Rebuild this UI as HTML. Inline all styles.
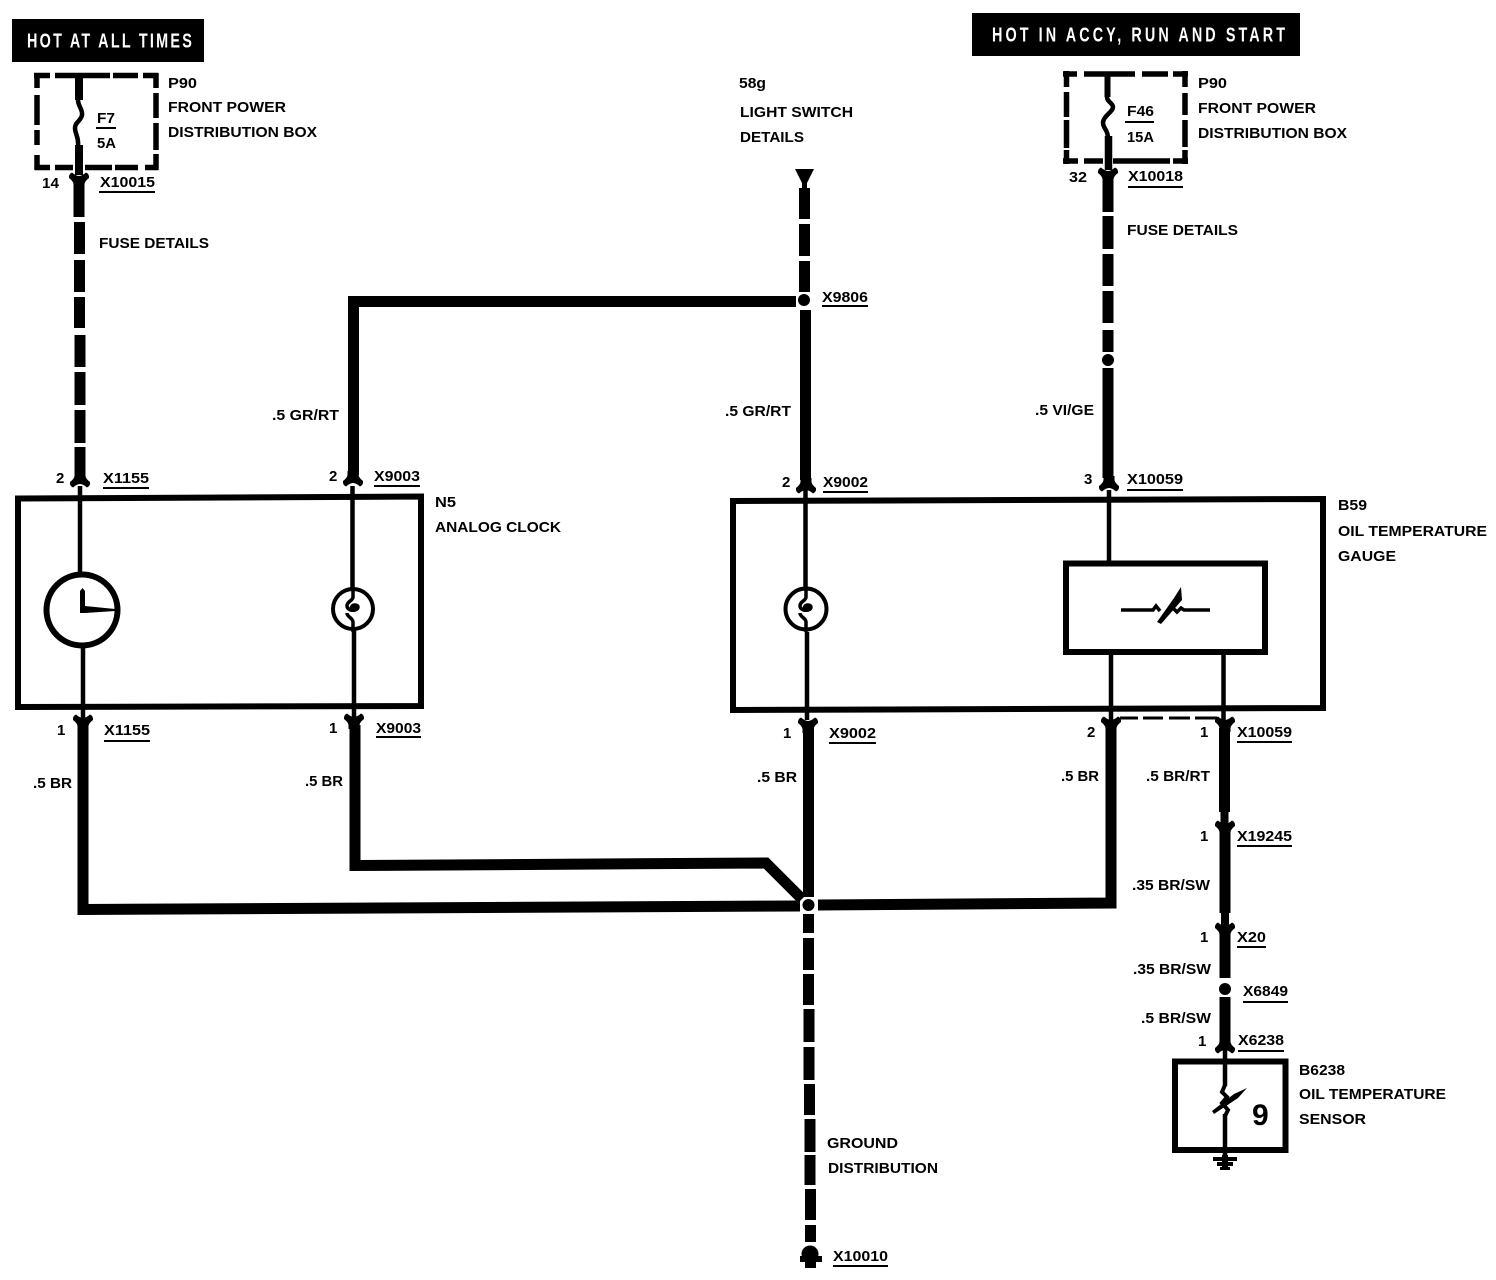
<!DOCTYPE html>
<html>
<head>
<meta charset="utf-8">
<title>Analog Clock and Oil Temperature Gauge Wiring Diagram</title>
<style>
html,body{margin:0;padding:0;background:#fff;}
svg{display:block;}
text{font-family:"Liberation Sans",sans-serif;font-weight:bold;font-size:15px;fill:#000;}
.w{fill:#fff;font-size:20px;font-weight:bold;}
</style>
</head>
<body>
<svg xmlns="http://www.w3.org/2000/svg" width="1496" height="1280" viewBox="0 0 1496 1280">
<defs>
<path id="u" d="M-5.5,-12 V-8 Q-6,-5 -10,-2 Q-10.5,2 -7,3.5 Q-3,0 0,0 Q3,0 7,3.5 Q10.5,2 10,-2 Q6,-5 5.5,-8 V-12 Z"/>
<path id="d" d="M-5.5,12 V8 Q-6,5 -10,2 Q-10.5,-2 -7,-3.5 Q-3,0 0,0 Q3,0 7,-3.5 Q10.5,-2 10,2 Q6,5 5.5,8 V12 Z"/>
<g id="b">
<path d="M0,-21 V-12 C0,-8 -6,-8 -6,-3 C-6,0 -2,2 2,1 C6,0 6,-4 2,-4 C-1,-4 -2,-2 -1,0 M-6,4 C-6,8 0,9 0,13 V23" fill="none" stroke="#000" stroke-width="3.5"/>
<circle cx="2" cy="-1.5" r="2.5"/>
</g>
</defs>
<rect width="1496" height="1280" fill="#fff"/>

<!-- header banners -->
<rect x="12" y="19" width="192" height="43" fill="#000"/>
<text class="w" transform="translate(27,47.5) scale(.72,1)" textLength="229" lengthAdjust="spacing">HOT AT ALL TIMES</text>
<rect x="972" y="13" width="328" height="43" fill="#000"/>
<text class="w" transform="translate(992,41.5) scale(.72,1)" textLength="407" lengthAdjust="spacing">HOT IN ACCY, RUN AND  START</text>

<!-- dashed fuse boxes -->
<g fill="none" stroke="#000" stroke-width="5.5">
<path d="M34,75.5H50M55,75.5H83M83,75.5H110M113,75.5H138M143,75.5H158M37,73V88M37,95V125M37,130V145M37,155V170M156,73V88M156,93V118M156,123V150M156,154V170M35,167.5H50M55,167.5H73M85,167.5H112M115,167.5H138M145,167.5H158"/>
<path d="M1063,74H1077M1084,74H1135M1142,74H1168M1173,74H1188M1066.5,71V87M1066.5,92V117M1066.5,120V148M1066.5,150V164M1185,71V87M1185,93V115M1185,120V147M1185,150V164M1063,161H1078M1084,161H1103M1113,161H1170M1173,161H1188"/>
</g>
<!-- fuses -->
<g fill="none" stroke="#000">
<path d="M79,74V100" stroke-width="8"/>
<path d="M78,100C78,106 83,110 82,115C81,121 75,122 75,128C75,134 79,137 78,146" stroke-width="4.5"/>
<path d="M79,145V175" stroke-width="8"/>
<path d="M1107.5,74V97" stroke-width="6"/>
<path d="M1107,97C1107,102 1113,103 1113,107C1113,112 1103,116 1103,123C1103,128 1108,130 1108,138" stroke-width="4.5"/>
<path d="M1108.5,136V170" stroke-width="7.5"/>
</g>

<!-- thick wires -->
<g fill="none" stroke="#000" stroke-width="11">
<path d="M79,180V217M79.5,222V254M79.5,260V292M79.5,297V328M80,335V367M80,372V405M80,410V443M80,447V474"/>
<path d="M1108,175V212M1108,216V249M1108,254V286M1108,291V323M1108,330V352M1108,368V478"/>
<path d="M804.5,188V219M804.5,224V256M804.5,261V292M805.5,310V480"/>
<path d="M796,301.5H353.5V475"/>
<path d="M83,725V909.5L800,906"/>
<path d="M355,725V865.5L766,863L802,899"/>
<path d="M808.5,727V897"/>
<path d="M818,905L1111,903V728"/>
<path d="M1224.5,728V812M1225,830V913M1225,932V978M1225,997V1040"/>
<path d="M808.5,914V933M808.5,938V970M808.5,974V1005M809,1009V1042M809,1047V1080M809.5,1084V1115M810,1119V1152M810,1155V1185M810.5,1189V1220M810.5,1225V1242"/>
</g>
<path d="M1224.5,810V824M1225,911V926" fill="none" stroke="#000" stroke-width="8"/>

<!-- junction dots -->
<circle cx="808.5" cy="905" r="6"/>
<circle cx="804" cy="300" r="6"/>
<circle cx="1108" cy="360" r="6"/>
<circle cx="1225" cy="989" r="6"/>

<!-- top arrow and ground end -->
<path d="M795,169H814L807,183V190H802V183Z"/>
<circle cx="810" cy="1254" r="8.5"/>
<path d="M800,1256H822V1262H800ZM805,1260H816V1268H805Z"/>

<!-- connector forks -->
<use href="#u" x="80" y="484"/>
<use href="#u" x="353" y="483"/>
<use href="#u" x="806" y="490"/>
<use href="#u" x="1109" y="488"/>
<use href="#u" x="1225" y="1050"/>
<use href="#d" x="79" y="176"/>
<use href="#d" x="1108" y="171"/>
<use href="#d" x="83" y="718"/>
<use href="#d" x="354" y="717"/>
<use href="#d" x="808" y="721"/>
<use href="#d" x="1111" y="720"/>
<use href="#d" x="1225" y="720"/>
<use href="#d" x="1225" y="824"/>
<use href="#d" x="1225" y="926"/>

<!-- component boxes -->
<g fill="none" stroke="#000" stroke-width="6">
<path d="M18,498.5L421,496.5V706L18,707Z"/>
<path d="M733,501L1323,499V708L733,710Z"/>
<rect x="1066" y="563.5" width="199" height="88.5"/>
<rect x="1175" y="1061.5" width="110.5" height="88.5"/>
<circle cx="82" cy="610" r="35.5"/>
</g>
<g fill="none" stroke="#000" stroke-width="4">
<circle cx="353" cy="609" r="20"/>
<circle cx="806" cy="609" r="20.5"/>
</g>

<!-- thin internal wires -->
<g fill="none" stroke="#000" stroke-width="4.5">
<path d="M80,486V575M83,645V718"/>
<path d="M352.5,486V588M354,630V718"/>
<path d="M805.5,490V588M807,632V720"/>
<path d="M1109,490V562M1111,654V720M1223.5,654V720"/>
<path d="M1225,1050V1086M1225,1114V1158"/>
</g>
<path d="M1120,718H1138M1143,718H1163M1169,718H1190M1195,718H1217" fill="none" stroke="#000" stroke-width="3"/>

<!-- clock hands -->
<path d="M80,591L82.5,588L85,591V606L115,609V611L85,613H80Z"/>
<!-- bulb filaments -->
<use href="#b" x="353" y="609"/>
<use href="#b" x="806" y="609"/>

<!-- gauge resistor -->
<path d="M1121,610H1153L1156,606L1160,611M1172,607L1177,612L1181,608L1184,610H1210" fill="none" stroke="#000" stroke-width="3.5"/>
<path d="M1157,622L1174,598L1181,587L1182,600L1161,624Z"/>

<!-- sensor resistor -->
<path d="M1225,1085L1222,1092L1227,1097L1222,1103L1228,1110L1225,1116" fill="none" stroke="#000" stroke-width="4"/>
<path d="M1212,1111L1234,1094L1247,1088L1238,1098L1214,1114Z"/>
<text x="1252" y="1125" style="font-size:30px">9</text>

<!-- sensor ground -->
<path d="M1213,1157H1237V1161H1213ZM1217,1162H1233V1166H1217ZM1220,1167H1230V1170H1220ZM1222,1155H1228V1170H1222Z"/>

<!-- label underlines -->
<path d="M96,128H116M99,192H155M1125,122H1154M1128,187H1183M822,306H868M103,488H149M374,486H420M104,741H150M376,737H421M823,492H868M829,743H876M1127,490H1183M1237,742H1292M1237,846H1292M1237,947H1266M1243,1002H1288M1238,1051H1284M833,1266H888" fill="none" stroke="#000" stroke-width="2"/>

<!-- labels -->
<text x="168" y="88" textLength="29" lengthAdjust="spacingAndGlyphs">P90</text>
<text x="168" y="112" textLength="118" lengthAdjust="spacingAndGlyphs">FRONT POWER</text>
<text x="168" y="137" textLength="149" lengthAdjust="spacingAndGlyphs">DISTRIBUTION BOX</text>
<text x="97" y="123" textLength="18" lengthAdjust="spacingAndGlyphs">F7</text>
<text x="97" y="148" textLength="19" lengthAdjust="spacingAndGlyphs">5A</text>
<text x="42" y="188" textLength="17" lengthAdjust="spacingAndGlyphs">14</text>
<text x="100" y="187" textLength="55" lengthAdjust="spacingAndGlyphs">X10015</text>
<text x="99" y="248" textLength="110" lengthAdjust="spacingAndGlyphs">FUSE DETAILS</text>

<text x="1198" y="88" textLength="29" lengthAdjust="spacingAndGlyphs">P90</text>
<text x="1198" y="113" textLength="118" lengthAdjust="spacingAndGlyphs">FRONT POWER</text>
<text x="1198" y="138" textLength="149" lengthAdjust="spacingAndGlyphs">DISTRIBUTION BOX</text>
<text x="1127" y="116" textLength="27" lengthAdjust="spacingAndGlyphs">F46</text>
<text x="1127" y="142" textLength="27" lengthAdjust="spacingAndGlyphs">15A</text>
<text x="1069" y="182" textLength="18" lengthAdjust="spacingAndGlyphs">32</text>
<text x="1128" y="181" textLength="55" lengthAdjust="spacingAndGlyphs">X10018</text>
<text x="1127" y="235" textLength="111" lengthAdjust="spacingAndGlyphs">FUSE DETAILS</text>

<text x="739" y="88" textLength="27" lengthAdjust="spacingAndGlyphs">58g</text>
<text x="740" y="117" textLength="113" lengthAdjust="spacingAndGlyphs">LIGHT SWITCH</text>
<text x="740" y="142" textLength="64" lengthAdjust="spacingAndGlyphs">DETAILS</text>
<text x="822" y="302" textLength="46" lengthAdjust="spacingAndGlyphs">X9806</text>

<text x="272" y="420" textLength="67" lengthAdjust="spacingAndGlyphs">.5 GR/RT</text>
<text x="725" y="416" textLength="66" lengthAdjust="spacingAndGlyphs">.5 GR/RT</text>
<text x="1035" y="415" textLength="59" lengthAdjust="spacingAndGlyphs">.5 VI/GE</text>

<text x="56" y="483">2</text>
<text x="103" y="483" textLength="46" lengthAdjust="spacingAndGlyphs">X1155</text>
<text x="329" y="481">2</text>
<text x="374" y="481" textLength="46" lengthAdjust="spacingAndGlyphs">X9003</text>
<text x="782" y="487">2</text>
<text x="823" y="487" textLength="45" lengthAdjust="spacingAndGlyphs">X9002</text>
<text x="1084" y="484">3</text>
<text x="1127" y="484" textLength="56" lengthAdjust="spacingAndGlyphs">X10059</text>

<text x="435" y="507" textLength="21" lengthAdjust="spacingAndGlyphs">N5</text>
<text x="435" y="532" textLength="126" lengthAdjust="spacingAndGlyphs">ANALOG CLOCK</text>
<text x="1338" y="510" textLength="29" lengthAdjust="spacingAndGlyphs">B59</text>
<text x="1338" y="536" textLength="149" lengthAdjust="spacingAndGlyphs">OIL TEMPERATURE</text>
<text x="1338" y="561" textLength="58" lengthAdjust="spacingAndGlyphs">GAUGE</text>

<text x="57" y="735">1</text>
<text x="104" y="735" textLength="46" lengthAdjust="spacingAndGlyphs">X1155</text>
<text x="329" y="733">1</text>
<text x="376" y="733" textLength="45" lengthAdjust="spacingAndGlyphs">X9003</text>
<text x="783" y="738">1</text>
<text x="829" y="738" textLength="47" lengthAdjust="spacingAndGlyphs">X9002</text>
<text x="1087" y="737">2</text>
<text x="1200" y="737">1</text>
<text x="1237" y="737" textLength="55" lengthAdjust="spacingAndGlyphs">X10059</text>

<text x="33" y="788" textLength="39" lengthAdjust="spacingAndGlyphs">.5 BR</text>
<text x="305" y="786" textLength="38" lengthAdjust="spacingAndGlyphs">.5 BR</text>
<text x="757" y="782" textLength="40" lengthAdjust="spacingAndGlyphs">.5 BR</text>
<text x="1061" y="781" textLength="38" lengthAdjust="spacingAndGlyphs">.5 BR</text>
<text x="1146" y="781" textLength="64" lengthAdjust="spacingAndGlyphs">.5 BR/RT</text>

<text x="1200" y="841">1</text>
<text x="1237" y="841" textLength="55" lengthAdjust="spacingAndGlyphs">X19245</text>
<text x="1132" y="890" textLength="78" lengthAdjust="spacingAndGlyphs">.35 BR/SW</text>
<text x="1200" y="942">1</text>
<text x="1237" y="942" textLength="29" lengthAdjust="spacingAndGlyphs">X20</text>
<text x="1133" y="974" textLength="78" lengthAdjust="spacingAndGlyphs">.35 BR/SW</text>
<text x="1243" y="996" textLength="45" lengthAdjust="spacingAndGlyphs">X6849</text>
<text x="1141" y="1023" textLength="70" lengthAdjust="spacingAndGlyphs">.5 BR/SW</text>
<text x="1198" y="1046">1</text>
<text x="1238" y="1045" textLength="46" lengthAdjust="spacingAndGlyphs">X6238</text>
<text x="1299" y="1075" textLength="46" lengthAdjust="spacingAndGlyphs">B6238</text>
<text x="1299" y="1099" textLength="147" lengthAdjust="spacingAndGlyphs">OIL TEMPERATURE</text>
<text x="1299" y="1124" textLength="67" lengthAdjust="spacingAndGlyphs">SENSOR</text>

<text x="827" y="1148" textLength="71" lengthAdjust="spacingAndGlyphs">GROUND</text>
<text x="828" y="1173" textLength="110" lengthAdjust="spacingAndGlyphs">DISTRIBUTION</text>
<text x="833" y="1261" textLength="55" lengthAdjust="spacingAndGlyphs">X10010</text>
</svg>
</body>
</html>
